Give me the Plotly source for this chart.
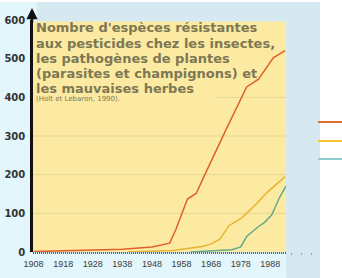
import plotly.graph_objects as go

# Data
years_insects = [1908, 1918, 1928, 1938, 1948, 1951, 1954, 1956, 1960, 1963, 1965, 1973, 1980, 1984, 1989, 1993]
vals_insects = [1, 3, 4, 7, 13, 18, 23, 57, 137, 152, 186, 316, 427, 447, 502, 521]

years_path = [1940, 1950, 1955, 1960, 1965, 1968, 1971, 1974, 1976, 1978, 1980, 1983, 1987, 1990, 1993]
vals_path = [0, 2, 4, 9, 14, 21, 33, 68, 78, 86, 100, 122, 155, 176, 195]

years_weeds = [1961, 1970, 1975, 1978, 1980, 1984, 1986, 1988.5, 1991, 1993.3]
vals_weeds = [0, 3, 6, 13, 40, 66, 76, 96, 139, 171]

x_ticks = [1908, 1918, 1928, 1938, 1948, 1958, 1968, 1978, 1988]
y_ticks = [0, 100, 200, 300, 400, 500, 600]
grid_vals = [100, 200, 300]

title_lines = ["Nombre d'espèces résistantes", "aux pesticides chez les insectes,",
               "les pathogènes de plantes", "(parasites et champignons) et",
               "les mauvaises herbes"]
source_text = "(Holt et Lebaron, 1990)."

C_RED = "#e0602c"
C_YEL = "#e6b432"
C_TEAL = "#62aa88"
C_BG_YEL = "#fdeaa2"
C_PANEL = "#d6e9f0"
C_CYAN = "#e2f6fc"
C_GRID = "#e4d594"
C_TEXT = "#7c7853"

fig = go.Figure()
for xs, ys, c in [(years_insects, vals_insects, C_RED),
                  (years_path, vals_path, C_YEL),
                  (years_weeds, vals_weeds, C_TEAL)]:
    fig.add_trace(go.Scatter(x=xs, y=ys, mode="lines", line=dict(color=c, width=1.5),
                             showlegend=False, hoverinfo="skip"))

W, H = 342, 278
L, R, T, B = 33, 56, 20, 26
pw, ph = W - L - R, H - T - B
def px(x):
    return (x - L) / pw
def py(y):
    return (H - B - y) / ph

shapes = [
    dict(type="rect", xref="paper", yref="paper", x0=px(37), x1=px(320), y0=py(278), y1=py(2),
         fillcolor=C_PANEL, line_width=0, layer="below"),
    dict(type="rect", xref="paper", yref="paper", x0=px(0), x1=px(37), y0=py(278), y1=py(2),
         fillcolor=C_CYAN, line_width=0, layer="below"),
    dict(type="rect", xref="paper", yref="paper", x0=px(0), x1=px(286), y0=py(278), y1=py(253),
         fillcolor=C_CYAN, line_width=0, layer="below"),
    dict(type="rect", xref="paper", yref="paper", x0=0, x1=1, y0=0, y1=py(21.5),
         fillcolor=C_BG_YEL, line_width=0, layer="below"),
]
for g in grid_vals:
    shapes.append(dict(type="line", xref="paper", yref="y", x0=0, x1=1, y0=g, y1=g,
                       line=dict(color=C_GRID, width=1), layer="below"))
shapes.append(dict(type="line", xref="paper", yref="y", x0=px(216), x1=1, y0=400, y1=400,
                   line=dict(color=C_GRID, width=1), layer="below"))
# dotted x axis
shapes.append(dict(type="line", xref="paper", yref="paper", x0=0, x1=1, y0=py(253), y1=py(253),
                   line=dict(color="#333333", width=1.5, dash="1px,1px")))
shapes.append(dict(type="line", xref="paper", yref="paper", x0=1.02, x1=px(318), y0=py(254), y1=py(254),
                   line=dict(color="#555555", width=1, dash="1px,9px")))
# legend swatches
for yy, c in [(122, "#e27030"), (141, "#f7c430"), (159, "#92cdcd")]:
    shapes.append(dict(type="line", xref="paper", yref="paper", x0=px(318), x1=px(345),
                       y0=py(yy), y1=py(yy), line=dict(color=c, width=2)))

annotations = [
    dict(xref="paper", yref="paper", x=px(32), y=py(8), ax=0, ay=16, text="",
         showarrow=True, arrowhead=2, arrowsize=0.9, arrowwidth=2.5, arrowcolor="#111111"),
    dict(xref="paper", yref="paper", x=px(34), y=py(99), xanchor="left", yanchor="middle",
         align="left", showarrow=False, text=source_text,
         font=dict(family="DejaVu Sans", size=7, color=C_TEXT)),
]
line_y = [28, 43.1, 58.2, 73.1, 88.0]
for s, yy in zip(title_lines, line_y):
    annotations.append(dict(xref="paper", yref="paper", x=px(34), y=py(yy), xanchor="left",
                            yanchor="middle", align="left", showarrow=False, text="<b>%s</b>" % s,
                            font=dict(family="DejaVu Sans", size=13, color=C_TEXT)))

fig.update_layout(
    width=W, height=H, margin=dict(l=L, r=R, t=T, b=B),
    paper_bgcolor="white", plot_bgcolor="rgba(0,0,0,0)",
    shapes=shapes, annotations=annotations, showlegend=False,
    xaxis=dict(range=[1907.8, 1993.3], tickvals=x_ticks, ticktext=[str(v) for v in x_ticks],
               showgrid=False, zeroline=False, showline=False, ticks="", ticklabelstandoff=5,
               automargin=False,
               tickfont=dict(family="Liberation Sans", size=9, color="#3c3c3c")),
    yaxis=dict(range=[0, 600], tickvals=y_ticks, showgrid=False, zeroline=False,
               showline=True, linecolor="#111111", linewidth=2.5, ticks="", ticklabelstandoff=3,
               automargin=False,
               tickfont=dict(family="DejaVu Sans", size=10, color="#333333", weight="bold")),
)

fig.write_html("out.html")
